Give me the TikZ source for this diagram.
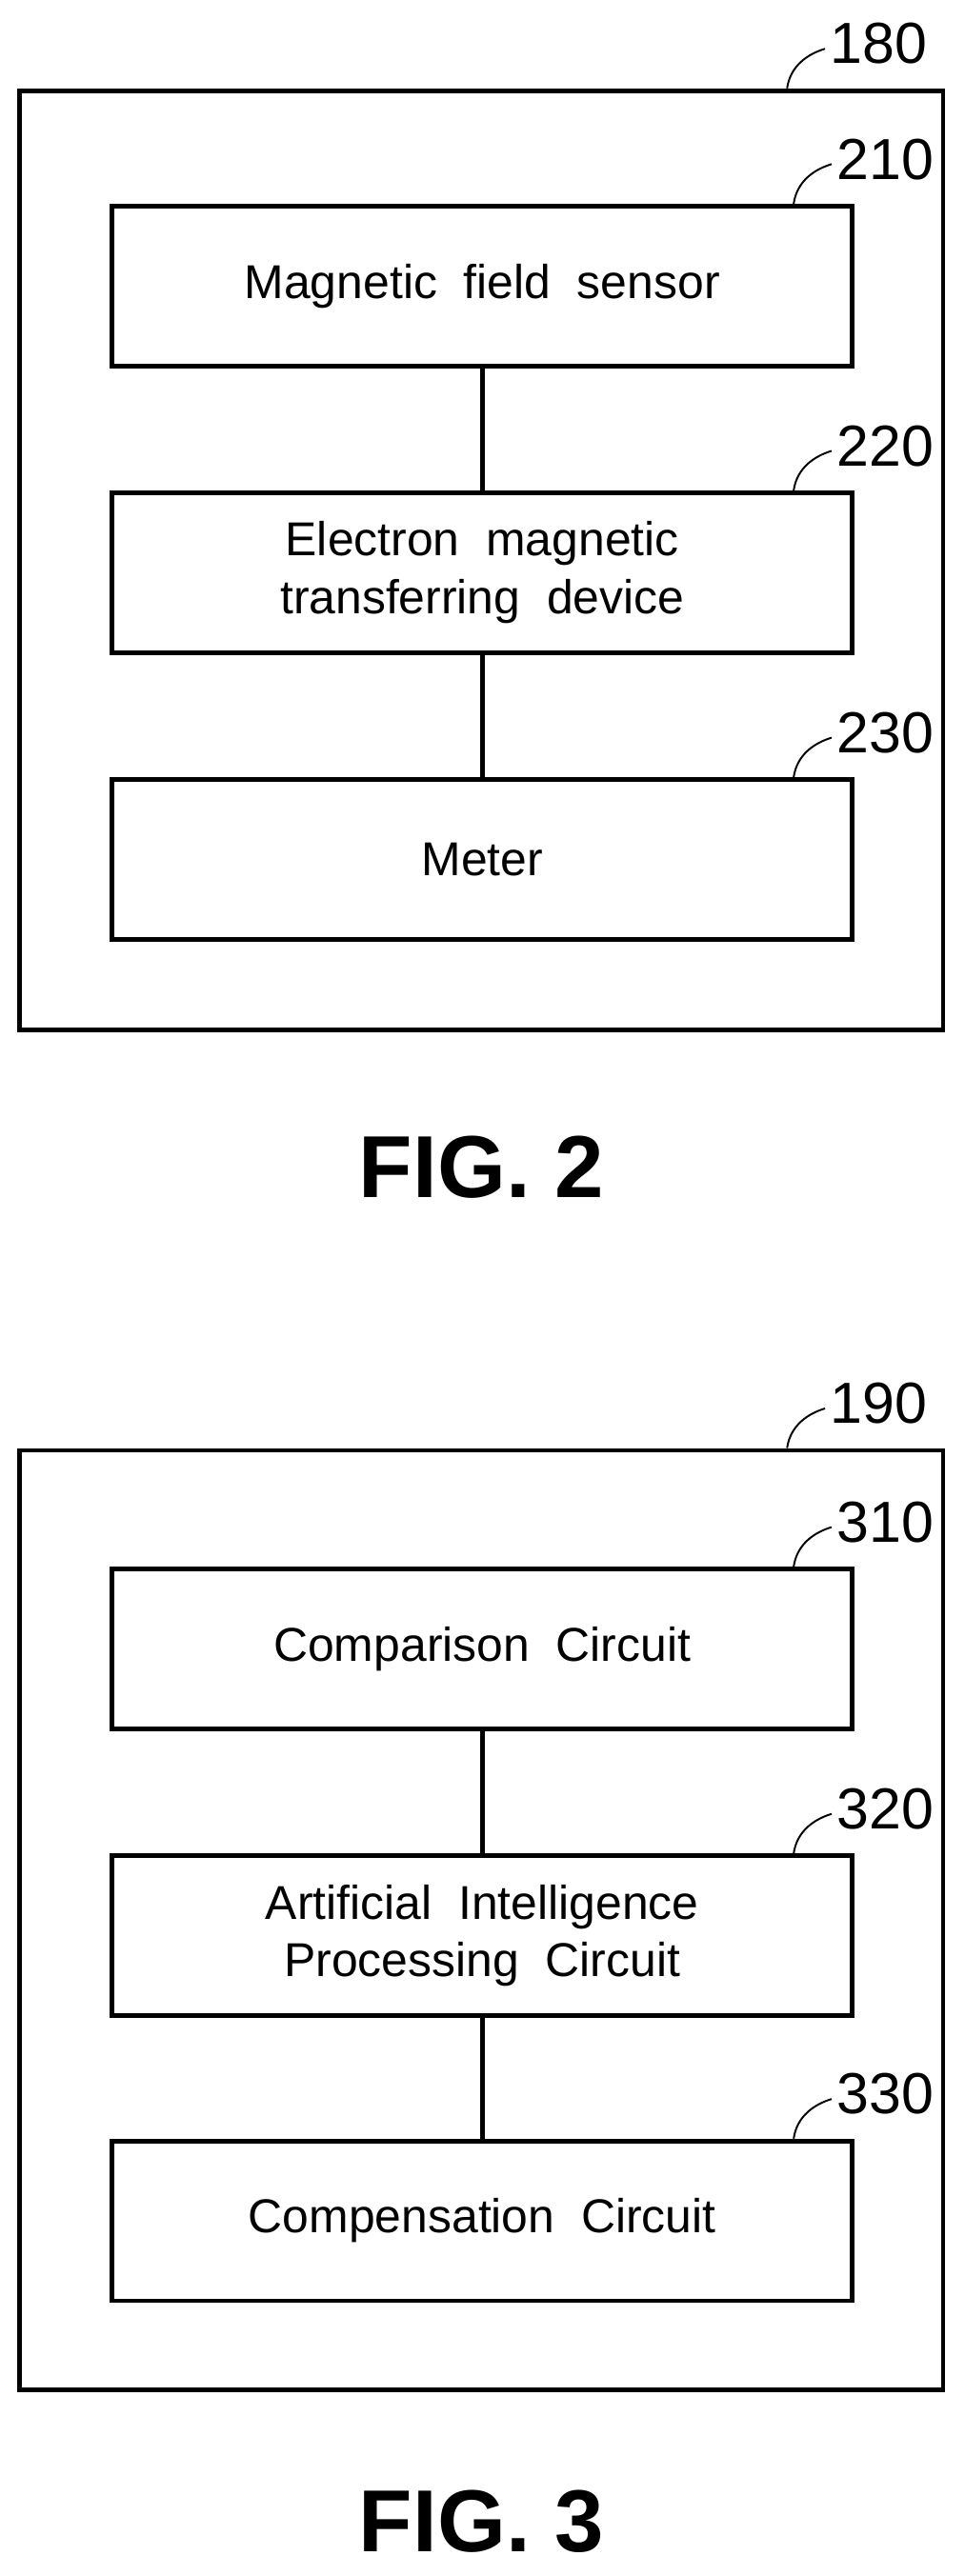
\documentclass[tikz,border=0pt]{standalone}
\usepackage{fontspec}
\setmainfont{Liberation Sans}
\usetikzlibrary{positioning}
\begin{document}
\begin{tikzpicture}[x=0.5mm,y=-0.5mm,line width=4pt,
        % define styles
        unit/.style={draw, minimum width=22.45cm, minimum height=4.85cm,
            inner sep=0pt, align=center, font=\fontsize{41}{50}\selectfont},
        frame/.style={draw, minimum width=28cm, minimum height=28.5cm, inner sep=0pt},
        refnum/.style={font=\fontsize{50}{52}\selectfont, anchor=west, inner sep=0pt},
        lead/.style={line width=1.6pt},
        figlab/.style={font=\bfseries\fontsize{76}{80}\selectfont}
    ]
    \useasboundingbox (0,0) rectangle (585,1563);

    % FIG. 2
    \node[frame] (f180) at (292,340) {};
    \node[unit] (b210) at (292.5,173.5) {Magnetic\ \ field\ \ sensor};
    \node[unit] (b220) at (292.5,347.5) {Electron\ \ magnetic\\transferring\ \ device};
    \node[unit] (b230) at (292.5,521.5) {Meter};
    \draw (b210) -- (b220);
    \draw (b220) -- (b230);
    \node[figlab] (fig2) at (292,708) {FIG.\ 2};

    % FIG. 3
    \node[frame] (f190) at (292,1165) {};
    \node[unit] (b310) at (292.5,1000.5) {Comparison\ \ Circuit};
    \node[unit] (b320) at (292.5,1174.5) {Artificial\ \ Intelligence\\Processing\ \ Circuit};
    \node[unit] (b330) at (292.5,1347.5) {Compensation\ \ Circuit};
    \draw (b310) -- (b320);
    \draw (b320) -- (b330);
    \node[figlab] (fig3) at (292,1530) {FIG.\ 3};

    % reference numerals with leaders
    \foreach \bx/\num/\dx in {f180/180/-59,b210/210/0,b220/220/0,b230/230/0,
                              f190/190/-59,b310/310/0,b320/320/0,b330/330/0}{
        \coordinate (s\num) at ([shift={(-37+\dx,0)}]\bx.north east);
        \coordinate (e\num) at ([shift={(-14+\dx,-24)}]\bx.north east);
        \draw[lead] (s\num) .. controls +(2,-14) and +(-10,3) .. (e\num);
        \node[refnum] (n\num) at ([shift={(-12+\dx,-27)}]\bx.north east) {\num};
    }
\end{tikzpicture}
\end{document}
